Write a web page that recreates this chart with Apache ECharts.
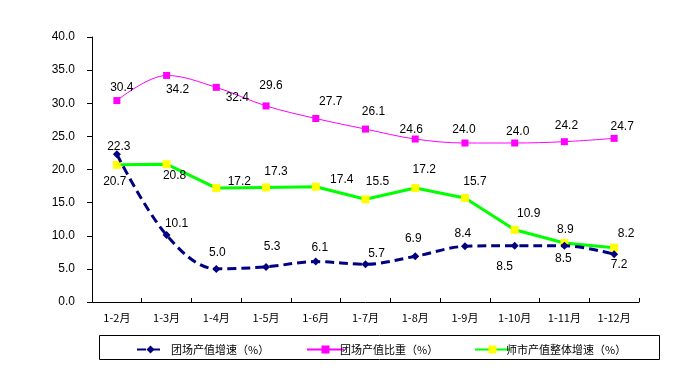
<!DOCTYPE html>
<html>
<head>
<meta charset="utf-8">
<script src="https://cdn.jsdelivr.net/npm/echarts@6/dist/echarts.min.js"></script>
<style>html,body{margin:0;padding:0;background:#fff;}#c{width:689px;height:386px;}</style>
</head>
<body>
<div id="c"></div>
<script>
var categories = ['1-2月','1-3月','1-4月','1-5月','1-6月','1-7月','1-8月','1-9月','1-10月','1-11月','1-12月'];
var seriesNames = ['团场产值增速（%）','团场产值比重（%）','师市产值整体增速（%）'];
var tuanGrowth = [22.3, 10.1, 5.0, 5.3, 6.1, 5.7, 6.9, 8.4, 8.5, 8.5, 7.2];
var tuanShare = [30.4, 34.2, 32.4, 29.6, 27.7, 26.1, 24.6, 24.0, 24.0, 24.2, 24.7];
var shiGrowth = [20.7, 20.8, 17.2, 17.3, 17.4, 15.5, 17.2, 15.7, 10.9, 8.9, 8.2];
var yTicks = {min: 0, max: 40, interval: 5};

// label offsets (style only)
var offGrowth = [[2,-8],[10,-11],[1,-16],[6,-20],[4,-14],[11,-11],[-2,-18],[-2,-13],[-10,21],[-1,13],[5,10]];
var offShare = [[5,-13],[11,14],[21,10],[5,-20],[15,-17],[8,-17],[-4,-9],[-1,-13],[3,-11],[2,-16],[8,-12]];
var offShi = [[-2,17],[8,11],[23,-6],[10,-16],[26,-7],[12,-18],[9,-18],[10,-16],[14,-16],[1,-13],[12,-14]];

function withLabels(vals, offs) {
  return vals.map(function (v, i) {
    return { value: v, label: { offset: offs[i] } };
  });
}
var numFont = 'Liberation Sans, Arial, sans-serif';
var cjkFont = '"Noto Sans CJK SC", sans-serif';
var lbl = {
  show: true, position: 'inside', color: '#000', fontSize: 12, fontFamily: numFont,
  formatter: function (p) { return Number(p.value).toFixed(1); }
};

var chart = echarts.init(document.getElementById('c'), null, {renderer: 'canvas'});
chart.setOption({
  animation: false,
  backgroundColor: '#fff',
  grid: { left: 92, right: 50, top: 37, bottom: 84, containLabel: false, outerBoundsMode: 'none' },
  xAxis: {
    type: 'category', data: categories, boundaryGap: true,
    axisLine: { lineStyle: { color: '#000', width: 1 } },
    axisTick: { show: true, inside: true, length: 4, lineStyle: { color: '#000' } },
    axisLabel: { color: '#000', fontSize: 11, fontFamily: cjkFont, margin: 10, interval: 0 },
    splitLine: { show: false }
  },
  yAxis: {
    type: 'value', min: yTicks.min, max: yTicks.max, interval: yTicks.interval,
    axisLine: { show: true, lineStyle: { color: '#000', width: 1 } },
    axisTick: { show: true, inside: false, length: 5, lineStyle: { color: '#000' } },
    axisLabel: { color: '#000', fontSize: 12, fontFamily: numFont, margin: 17,
      formatter: function (v) { return v.toFixed(1); } },
    splitLine: { show: false }
  },
  graphic: [{
    type: 'rect', left: 97, top: 333, silent: true,
    shape: { x: 0, y: 0, width: 560, height: 24 },
    style: { fill: 'none', stroke: '#000', lineWidth: 1 }
  }],
  legend: [
    { data: [seriesNames[0]], left: 131, top: 339, itemWidth: 27, itemHeight: 10, itemGap: 0,
      textStyle: { fontSize: 11, fontFamily: cjkFont, color: '#000', padding: [0,0,0,2] } },
    { data: [seriesNames[1]], left: 301, top: 339, itemWidth: 37, itemHeight: 10, itemGap: 0,
      textStyle: { fontSize: 11, fontFamily: cjkFont, color: '#000', padding: [0,0,0,-9] } },
    { data: [seriesNames[2]], left: 469, top: 339, itemWidth: 35, itemHeight: 10, itemGap: 0,
      textStyle: { fontSize: 11, fontFamily: cjkFont, color: '#000', padding: [0,0,0,-9] } }
  ],
  series: [
    {
      name: seriesNames[0], type: 'line', smooth: 0.35,
      data: withLabels(tuanGrowth, offGrowth),
      symbol: 'diamond', symbolSize: 8,
      lineStyle: { color: '#000080', width: 3, type: [9, 5] },
      itemStyle: { color: '#000080' },
      label: lbl, z: 3
    },
    {
      name: seriesNames[1], type: 'line', smooth: 0.35,
      data: withLabels(tuanShare, offShare),
      symbol: 'rect', symbolSize: 7,
      lineStyle: { color: '#FF00FF', width: 1 },
      itemStyle: { color: '#FF00FF' },
      label: lbl, z: 2
    },
    {
      name: seriesNames[2], type: 'line', smooth: false,
      data: withLabels(shiGrowth, offShi),
      symbol: 'rect', symbolSize: 8,
      lineStyle: { color: '#00FF00', width: 3 },
      itemStyle: { color: '#FFFF00', borderWidth: 0 },
      label: lbl, z: 2
    }
  ]
});
</script>
</body>
</html>
